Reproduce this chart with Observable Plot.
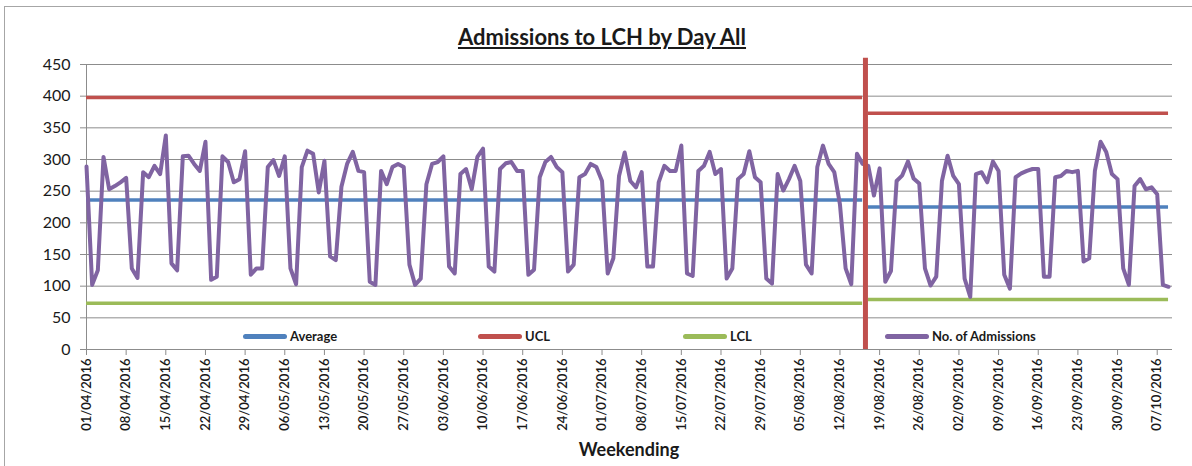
<!DOCTYPE html>
<html>
<head>
<meta charset="utf-8">
<script src="https://cdn.jsdelivr.net/npm/d3@7"></script>
<script src="https://cdn.jsdelivr.net/npm/@observablehq/plot@0.6"></script>
<style>
  html, body { margin: 0; padding: 0; background: #fff; }
  #wrap { position: relative; width: 1192px; height: 466px; overflow: hidden; font-family: Lato, "Open Sans", sans-serif; color: #1a1a1a; }
  #border { position: absolute; left: 4px; top: 6px; width: 1200px; height: 480px; border: 1px solid #a6a6a6; box-sizing: border-box; }
  #chart { position: absolute; left: 0; top: 0; }
  #title { position: absolute; left: 0; width: 1204px; top: 23px; text-align: center; font-size: 22px; font-weight: bold; text-decoration: underline; text-underline-offset: 2px; }
  #xlabel { position: absolute; left: 0; width: 1258px; top: 438px; text-align: center; font-size: 18px; font-weight: bold; }
  .leg { position: absolute; top: 328px; display: flex; align-items: center; font-size: 13px; font-weight: bold; white-space: nowrap; }
  .leg span.sw { display: inline-block; width: 44px; height: 5px; border-radius: 3px; margin-right: 3px; }
</style>
</head>
<body>
<div id="wrap">
  <div id="border"></div>
  <div id="chart"></div>
  <div id="title">Admissions to LCH by Day All</div>
  <div id="xlabel">Weekending</div>
  <div id="legend"></div>
</div>
<script>
// Daily number of admissions, from 01/04/2016 (one value per day)
const admissions = [
  289,102,125,304,253,258,264,
  271,128,113,280,272,290,277,
  338,136,125,305,306,293,282,
  328,110,115,305,296,264,269,
  313,118,128,128,288,299,274,
  305,128,103,288,314,309,248,
  298,147,141,257,293,312,282,
  280,107,102,282,261,288,293,
  288,134,102,112,261,293,296,
  305,131,120,277,285,253,304,
  317,131,123,285,294,296,282,
  282,118,126,272,296,304,288,
  280,123,134,272,277,293,288,
  266,120,144,274,311,266,256,
  280,131,131,264,290,282,282,
  322,120,116,282,290,312,277,
  285,112,128,269,277,313,272,
  264,112,104,277,251,269,290,
  266,134,120,288,322,293,280,
  229,128,103,309,293,290,243,
  286,107,124,266,275,297,270,
  262,128,101,115,266,306,274,
  261,112,83,277,280,264,297,
  282,118,96,272,278,282,285,
  285,115,115,272,274,282,280,
  282,139,144,282,328,312,277,
  269,128,102,258,269,253,256,
  245,102,99
];
const startDate = "2016-04-01";
// Control-limit periods (day index ranges) and their values
const periodStart = [0, 138];
const periodEnd   = [137, 191];
const averageVals = [236, 225];
const uclVals     = [398, 373];
const lclVals     = [73, 79];
const breakDay = 137.5; // process change marker between periods
const yTicks = [0, 50, 100, 150, 200, 250, 300, 350, 400, 450];
const seriesNames = ["Average", "UCL", "LCL", "No. of Admissions"];
const seriesColors = ["#4F81BD", "#C0504D", "#9BBB59", "#8064A2"];

const day0 = new Date(startDate + "T00:00:00Z");
const dayAt = i => new Date(day0.getTime() + i * 86400000);
const data = admissions.map((v, i) => ({date: dayAt(i), value: v}));
const periods = periodStart.map((s, k) => ({
  x1: dayAt(s), x2: dayAt(periodEnd[k]),
  avg: averageVals[k], ucl: uclVals[k], lcl: lclVals[k]
}));
const xTicks = d3.range(0, admissions.length, 7).map(dayAt);
const fmt = d3.utcFormat("%d/%m/%Y");

const plot = Plot.plot({
  width: 1192,
  height: 466,
  marginLeft: 86,
  marginRight: 20,
  marginTop: 64,
  marginBottom: 117,
  style: {fontFamily: "Lato, 'Open Sans', sans-serif", color: "#1a1a1a", background: "transparent"},
  x: {type: "utc", domain: [day0, dayAt(admissions.length - 1 + 0.7)]},
  y: {domain: [0, 450]},
  marks: [
    Plot.gridY(yTicks, {stroke: "#8c8c8c", strokeOpacity: 1, strokeWidth: 1}),
    Plot.axisY(yTicks, {tickSize: 6, tickPadding: 10, fontSize: 16, stroke: "#8c8c8c", label: null}),
    Plot.axisX(xTicks, {tickSize: 6, tickPadding: 3, tickRotate: -90, tickFormat: fmt, fontSize: 13, fontWeight: 600, stroke: "#8c8c8c", label: null}),
    Plot.ruleX([day0], {stroke: "#8c8c8c", strokeWidth: 1}),
    Plot.ruleY([0], {x1: day0, x2: dayAt(admissions.length - 1 + 0.7), stroke: "#8c8c8c", strokeWidth: 1}),
    Plot.ruleY(periods, {y: "avg", x1: "x1", x2: "x2", stroke: seriesColors[0], strokeWidth: 3.5}),
    Plot.ruleY(periods, {y: "ucl", x1: "x1", x2: "x2", stroke: seriesColors[1], strokeWidth: 3.5}),
    Plot.ruleY(periods, {y: "lcl", x1: "x1", x2: "x2", stroke: seriesColors[2], strokeWidth: 3.5}),
    Plot.line(data, {x: "date", y: "value", stroke: seriesColors[3], strokeWidth: 4, strokeLinejoin: "round"}),
    Plot.ruleX([dayAt(breakDay)], {y1: 0, y2: 460, stroke: "#C0504D", strokeWidth: 5, clip: false})
  ]
});
document.getElementById("chart").appendChild(plot);

// Legend positioned inside the plot area like the original
const legendX = [243, 478, 683, 885];
const legend = document.getElementById("legend");
seriesNames.forEach((name, i) => {
  const el = document.createElement("div");
  el.className = "leg";
  el.style.left = legendX[i] + "px";
  el.innerHTML = `<span class="sw" style="background:${seriesColors[i]}"></span>${name}`;
  legend.appendChild(el);
});
</script>
</body>
</html>
